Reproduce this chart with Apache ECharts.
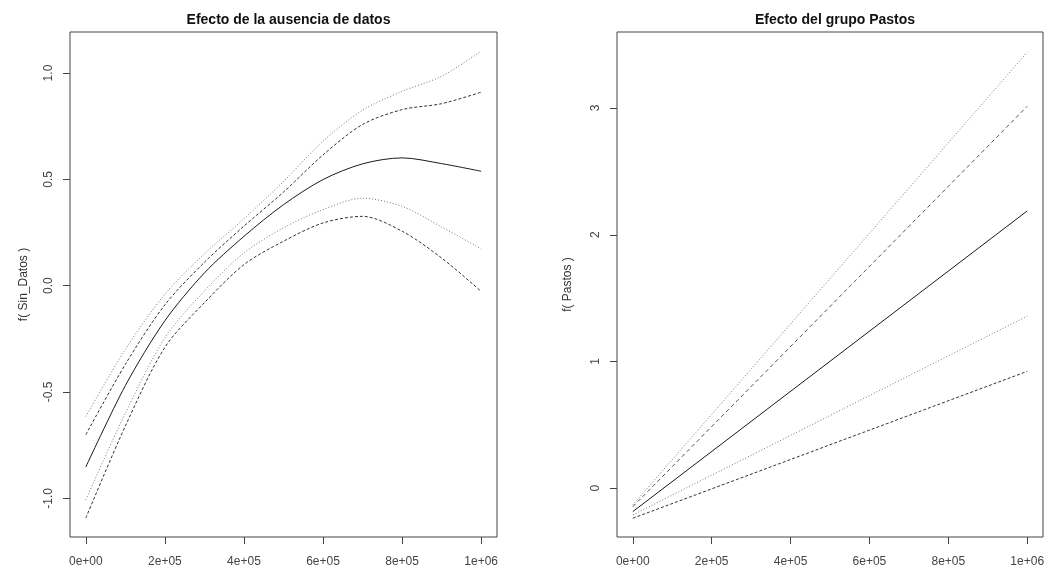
<!DOCTYPE html>
<html>
<head>
<meta charset="utf-8">
<script src="https://cdn.jsdelivr.net/npm/echarts@6/dist/echarts.min.js"></script>
<style>
  html, body { margin: 0; padding: 0; background: #fff; }
  #chart { width: 1048px; height: 572px; }
</style>
</head>
<body>
<div id="chart"></div>
<script>
// Smooth effect of Sin_Datos with two confidence bands
const xs = [0, 100000, 200000, 300000, 400000, 500000, 600000, 700000, 800000, 900000, 1000000];
const sinDatosFit     = [-0.853, -0.47, -0.165, 0.06, 0.232, 0.381, 0.499, 0.573, 0.601, 0.574, 0.538];
const sinDatosUpperA  = [-0.615, -0.30, -0.04, 0.15, 0.315, 0.49, 0.68, 0.825, 0.914, 0.985, 1.103];
const sinDatosUpperB  = [-0.701, -0.37, -0.09, 0.11, 0.28, 0.44, 0.615, 0.758, 0.828, 0.856, 0.91];
const sinDatosLowerA  = [-1.007, -0.60, -0.245, -0.025, 0.154, 0.272, 0.358, 0.411, 0.373, 0.276, 0.173];
const sinDatosLowerB  = [-1.093, -0.66, -0.29, -0.08, 0.099, 0.209, 0.295, 0.326, 0.256, 0.130, -0.027];

// Linear effect of Pastos with two confidence bands
const xsPastos = [0, 1000000];
const pastosFit    = [-0.185, 2.188];
const pastosUpperA = [-0.132, 3.44];
const pastosUpperB = [-0.146, 3.014];
const pastosLowerA = [-0.211, 1.358];
const pastosLowerB = [-0.237, 0.922];

// Tick positions and labels
const xTicks = [0, 200000, 400000, 600000, 800000, 1000000];
const xTickLabels = ['0e+00', '2e+05', '4e+05', '6e+05', '8e+05', '1e+06'];
const yTicksLeft = [-1, -0.5, 0, 0.5, 1];
const yTickLabelsLeft = ['-1.0', '-0.5', '0.0', '0.5', '1.0'];
const yTicksRight = [0, 1, 2, 3];
const yTickLabelsRight = ['0', '1', '2', '3'];

const titles = ['Efecto de la ausencia de datos', 'Efecto del grupo Pastos'];
const yNames = ['f( Sin_Datos )', 'f( Pastos )'];

const FONT = '"Liberation Sans", Arial, sans-serif';

function pairs(x, y) { return x.map((v, i) => [v, y[i]]); }

function labelFor(ticks, labels) {
  return function (v) {
    for (let i = 0; i < ticks.length; i++) {
      if (Math.abs(ticks[i] - v) < 1e-9 * Math.max(1, Math.abs(v))) return labels[i];
    }
    return '';
  };
}

function xAxisCfg(gridIndex) {
  return {
    type: 'value', gridIndex,
    min: -40000, max: 1040000,
    axisLine: { show: false, onZero: false },
    splitLine: { show: false },
    axisTick: { show: true, customValues: xTicks, length: 7, inside: false,
      lineStyle: { color: '#444', width: 1 } },
    axisLabel: { customValues: xTicks, formatter: labelFor(xTicks, xTickLabels),
      margin: 19, fontFamily: FONT, fontSize: 12, color: '#444' }
  };
}

function yAxisCfg(gridIndex, min, max, ticks, labels, name, gap) {
  return {
    type: 'value', gridIndex, min, max,
    name, nameLocation: 'middle', nameRotate: 90, nameGap: gap,
    nameTextStyle: { fontFamily: FONT, fontSize: 12, color: '#333' },
    axisLine: { show: false, onZero: false },
    splitLine: { show: false },
    axisTick: { show: true, customValues: ticks, length: 7,
      lineStyle: { color: '#444', width: 1 } },
    axisLabel: { customValues: ticks, formatter: labelFor(ticks, labels), rotate: 90,
      margin: 15, fontFamily: FONT, fontSize: 12, color: '#444' }
  };
}

function line(xi, yi, x, y, kind) {
  const styles = {
    fit:    { color: '#1a1a1a', type: 'solid' },
    dotted: { color: '#777', type: [1, 2] },
    dashed: { color: '#333', type: [3, 2] },
    long:   { color: '#555', type: [4, 3] }
  };
  return {
    type: 'line', xAxisIndex: xi, yAxisIndex: yi,
    data: pairs(x, y), showSymbol: false,
    smooth: kind.smooth ? 0.3 : false,
    lineStyle: Object.assign({ width: 1 }, styles[kind.s]),
    silent: true, animation: false
  };
}

const chart = echarts.init(document.getElementById('chart'), null, { renderer: 'canvas' });

chart.setOption({
  backgroundColor: '#fff',
  animation: false,
  title: [
    { text: titles[0], left: 283.5, top: 8, textAlign: 'center',
      textStyle: { fontFamily: FONT, fontSize: 14, fontWeight: 'bold', color: '#111' } },
    { text: titles[1], left: 830, top: 8, textAlign: 'center',
      textStyle: { fontFamily: FONT, fontSize: 14, fontWeight: 'bold', color: '#111' } }
  ],
  grid: [
    { left: 70, right: 551, top: 32, bottom: 35, show: true, borderColor: '#444', borderWidth: 1, backgroundColor: 'transparent' },
    { left: 617, right: 5, top: 32, bottom: 35, show: true, borderColor: '#444', borderWidth: 1, backgroundColor: 'transparent' }
  ],
  xAxis: [xAxisCfg(0), xAxisCfg(1)],
  yAxis: [
    yAxisCfg(0, -1.182, 1.193, yTicksLeft, yTickLabelsLeft, yNames[0], 40),
    yAxisCfg(1, -0.385, 3.6, yTicksRight, yTickLabelsRight, yNames[1], 43)
  ],
  series: [
    line(0, 0, xs, sinDatosUpperA, { s: 'dotted', smooth: true }),
    line(0, 0, xs, sinDatosUpperB, { s: 'dashed', smooth: true }),
    line(0, 0, xs, sinDatosFit,    { s: 'fit',    smooth: true }),
    line(0, 0, xs, sinDatosLowerA, { s: 'dotted', smooth: true }),
    line(0, 0, xs, sinDatosLowerB, { s: 'dashed', smooth: true }),
    line(1, 1, xsPastos, pastosUpperA, { s: 'dotted' }),
    line(1, 1, xsPastos, pastosUpperB, { s: 'long' }),
    line(1, 1, xsPastos, pastosFit,    { s: 'fit' }),
    line(1, 1, xsPastos, pastosLowerA, { s: 'dotted' }),
    line(1, 1, xsPastos, pastosLowerB, { s: 'dashed' })
  ]
});
</script>
</body>
</html>
